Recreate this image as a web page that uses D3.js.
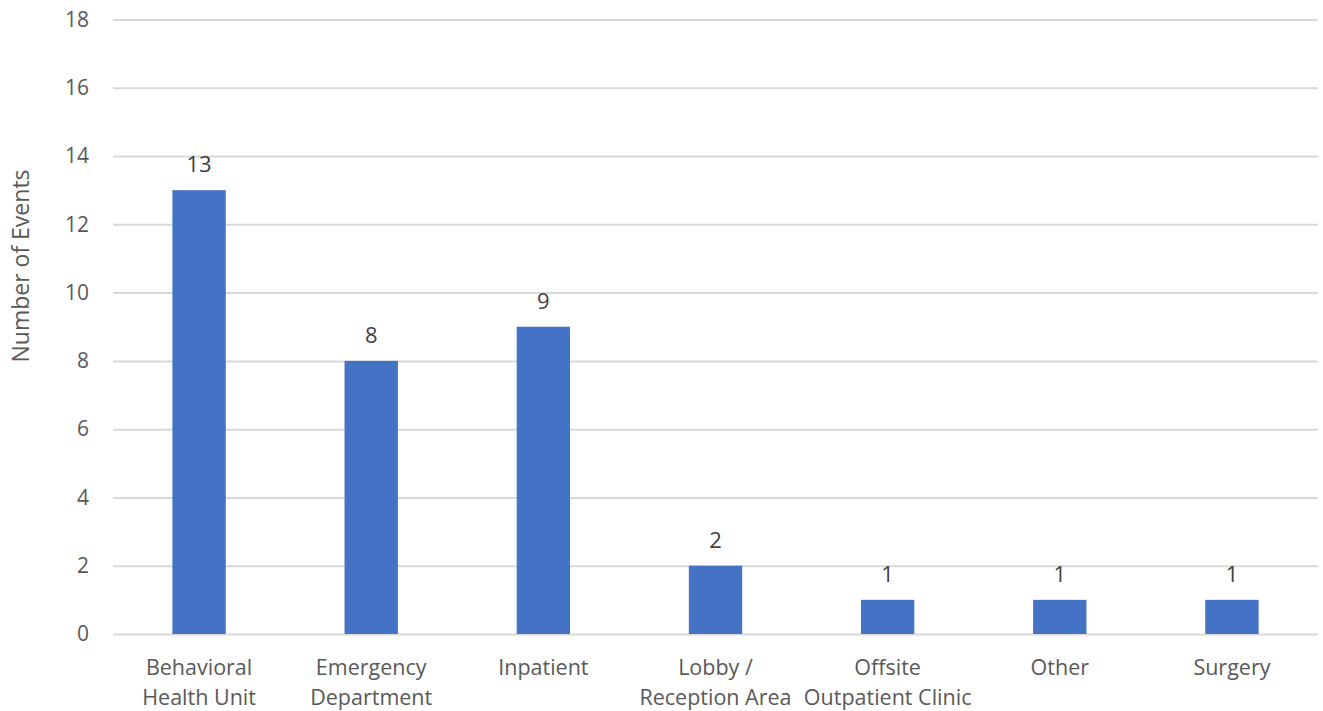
<!DOCTYPE html>
<html><head><meta charset="utf-8">
<script src="https://cdn.jsdelivr.net/npm/d3@7"></script>
<style>html,body{margin:0;padding:0;background:#fff;}</style>
</head><body>
<svg id="c" width="1323" height="711"></svg>
<script>
const categories = [["Behavioral","Health Unit"],["Emergency","Department"],["Inpatient"],["Lobby /","Reception Area"],["Offsite","Outpatient Clinic"],["Other"],["Surgery"]];
const values = [13, 8, 9, 2, 1, 1, 1];
const yTicks = [0, 2, 4, 6, 8, 10, 12, 14, 16, 18];
const yTitle = "Number of Events";

(function(){
const svg = d3.select("#c");
const font = "'Open Sans', sans-serif";
const mL = 113, mR = 1318, mT = 19.5, mB = 634;
const x = d3.scaleBand().domain(d3.range(categories.length)).range([mL, mR]).paddingInner(0.69).paddingOuter(0.345);
const y = d3.scaleLinear().domain([0, 18]).range([mB, mT]);

const yAxis = d3.axisLeft(y).tickValues(yTicks).tickSize(-(mR-mL)).tickPadding(24);
const gy = svg.append("g").attr("transform", `translate(${mL},0)`).call(yAxis);
gy.select(".domain").remove();
gy.selectAll(".tick line").attr("stroke", "#d9d9d9").attr("stroke-width", 2);
gy.selectAll(".tick text").attr("fill", "#595959").style("font-family", font).style("font-size", "21px");

svg.append("g").selectAll("rect").data(values).join("rect")
  .attr("x", (d,i) => x(i)).attr("width", x.bandwidth())
  .attr("y", d => y(d)).attr("height", d => y(0) - y(d))
  .attr("fill", "#4472c4");

svg.append("g").selectAll("text").data(values).join("text")
  .attr("x", (d,i) => x(i) + x.bandwidth()/2).attr("y", d => y(d) - 18)
  .attr("text-anchor", "middle").attr("fill", "#404040")
  .style("font-family", font).style("font-size", "22px").text(d => d);

const gx = svg.append("g");
categories.forEach((lines, i) => {
  const t = gx.append("text").attr("x", x(i) + x.bandwidth()/2).attr("y", 675)
    .attr("text-anchor", "middle").attr("fill", "#595959")
    .style("font-family", font).style("font-size", "21.5px");
  lines.forEach((l, j) => t.append("tspan").attr("x", x(i) + x.bandwidth()/2).attr("dy", j === 0 ? 0 : 30).text(l));
});

svg.append("text").attr("transform", "translate(29,266) rotate(-90)")
  .attr("text-anchor", "middle").attr("fill", "#595959")
  .style("font-family", font).style("font-size", "23px").text(yTitle);
})();
</script>
</body></html>
